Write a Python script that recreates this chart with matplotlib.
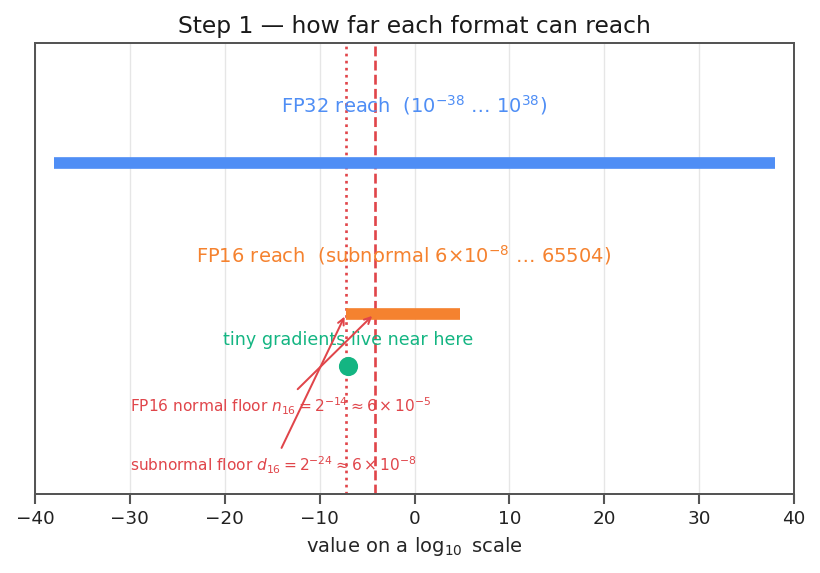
import numpy as np
import matplotlib
matplotlib.use("Agg")
import matplotlib.pyplot as plt
import seaborn as sns

sns.set_theme(style="ticks")
plt.rcParams['font.family'] = ['DejaVu Sans']

# data (log10 values)
formats = ["FP32", "FP16"]
ypos = [1.0, 0.0]
lows = [-38.0, np.log10(6e-8)]
highs = [38.0, np.log10(65504)]
colors = ["#4f8ef5", "#f5822f"]
labels = [r"FP32 reach  ($10^{-38}$ … $10^{38}$)",
          r"FP16 reach  (subnormal $6{\times}10^{-8}$ … 65504)"]
normal_floor = np.log10(2.0**-14)
subnormal_floor = np.log10(2.0**-24)
grad_x = -7.0
grad_y = -0.35
red = "#e0454a"
green = "#14b582"

fig, ax = plt.subplots(figsize=(820/120, 573/120), dpi=120)

for y, lo, hi, c, lab in zip(ypos, lows, highs, colors, labels):
    ax.hlines(y, lo, hi, color=c, linewidth=7, zorder=3)
    ax.text((lo + hi) / 2, y + 0.39, lab, color=c, fontsize=11.7,
            ha="center", va="center")

ax.axvline(normal_floor, color=red, linestyle="--", linewidth=1.6, zorder=2)
ax.axvline(subnormal_floor, color=red, linestyle=":", linewidth=1.6, zorder=2)

ax.scatter([grad_x], [grad_y], s=110, color=green, zorder=4)
ax.text(grad_x, grad_y + 0.175, "tiny gradients live near here", color=green,
        fontsize=10.5, ha="center", va="center")

ax.annotate(r"FP16 normal floor $n_{16}=2^{-14}\approx 6\times10^{-5}$",
            xy=(normal_floor, 0.0), xytext=(-30, -0.615),
            color=red, fontsize=9.25, ha="left", va="center",
            arrowprops=dict(arrowstyle="->", color=red, lw=1.2))
ax.annotate(r"subnormal floor $d_{16}=2^{-24}\approx 6\times10^{-8}$",
            xy=(subnormal_floor, 0.0), xytext=(-30, -1.01),
            color=red, fontsize=9.25, ha="left", va="center",
            arrowprops=dict(arrowstyle="->", color=red, lw=1.2))

ax.set_xlim(-40, 40)
ax.set_ylim(-1.2, 1.8)
ax.set_yticks([])
ax.set_xticks(np.arange(-40, 41, 10))
ax.grid(axis="x", color="#e6e6e6", linewidth=0.8)
ax.set_axisbelow(True)
for s in ax.spines.values():
    s.set_color("#555555")
    s.set_linewidth(1.2)
ax.tick_params(axis="x", colors="#555555", labelcolor="#222222", labelsize=11)
ax.set_xlabel(r"value on a $\log_{10}$ scale", fontsize=11.7)
ax.set_title("Step 1 — how far each format can reach", fontsize=14, color="#1a1a1a")

fig.subplots_adjust(left=35/820, right=794/820, top=1-43/573, bottom=1-494/573)
fig.savefig("out.png", dpi=120)
